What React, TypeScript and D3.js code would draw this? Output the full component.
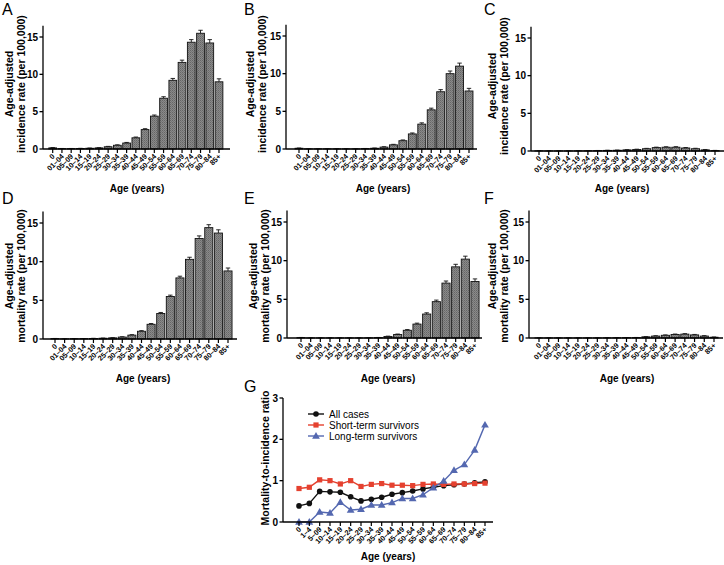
import React from "react";
import * as d3 from "d3";

// Age groups used on the bar panels and on the ratio panel
const AGE_GROUPS = ["0", "01–04", "05–09", "10–14", "15–19", "20–24", "25–29", "30–34", "35–39", "40–44", "45–49", "50–54", "55–59", "60–64", "65–69", "70–74", "75–79", "80–84", "85+"];
const AGE_GROUPS_RATIO = ["0", "1–4", "5–09", "10–14", "15–19", "20–24", "25–29", "30–34", "35–39", "40–44", "45–49", "50–54", "55–59", "60–64", "65–69", "70–74", "75–79", "80–84", "85+"];

// Age-adjusted incidence rate (per 100,000)
const incidenceAll = [0.15, 0.05, 0.05, 0.07, 0.1, 0.15, 0.3, 0.5, 0.8, 1.5, 2.6, 4.4, 6.8, 9.2, 11.6, 14.3, 15.5, 14.2, 9.0];
const incidenceAllErr = [0.05, 0.02, 0.02, 0.02, 0.03, 0.03, 0.05, 0.06, 0.08, 0.1, 0.12, 0.15, 0.2, 0.25, 0.3, 0.35, 0.4, 0.45, 0.4];
const incidenceShort = [0.1, 0.02, 0.02, 0.02, 0.02, 0.02, 0.02, 0.05, 0.1, 0.25, 0.55, 1.1, 2.0, 3.3, 5.2, 7.6, 10.0, 11.0, 7.7];
const incidenceShortErr = [0.03, 0.01, 0.01, 0.01, 0.01, 0.01, 0.01, 0.02, 0.03, 0.05, 0.07, 0.1, 0.13, 0.17, 0.22, 0.28, 0.35, 0.4, 0.35];
const incidenceLong = [0.02, 0.01, 0.01, 0.01, 0.02, 0.03, 0.05, 0.08, 0.1, 0.15, 0.2, 0.3, 0.45, 0.5, 0.5, 0.4, 0.3, 0.15, 0.05];
const incidenceLongErr = [0.01, 0.01, 0.01, 0.01, 0.01, 0.01, 0.02, 0.02, 0.02, 0.03, 0.04, 0.05, 0.06, 0.06, 0.07, 0.06, 0.06, 0.05, 0.03];

// Age-adjusted mortality rate (per 100,000)
const mortalityAll = [0.05, 0.02, 0.04, 0.05, 0.07, 0.1, 0.15, 0.25, 0.5, 1.0, 1.9, 3.3, 5.5, 7.9, 10.3, 13.0, 14.4, 13.7, 8.8];
const mortalityAllErr = [0.02, 0.01, 0.01, 0.01, 0.02, 0.02, 0.03, 0.04, 0.06, 0.08, 0.1, 0.13, 0.17, 0.22, 0.27, 0.33, 0.38, 0.42, 0.38];
const mortalityShort = [0.05, 0.01, 0.01, 0.01, 0.01, 0.01, 0.01, 0.02, 0.05, 0.2, 0.45, 1.0, 1.8, 3.1, 4.7, 7.1, 9.2, 10.2, 7.3];
const mortalityShortErr = [0.02, 0.01, 0.01, 0.01, 0.01, 0.01, 0.01, 0.01, 0.02, 0.04, 0.06, 0.09, 0.12, 0.16, 0.2, 0.27, 0.33, 0.38, 0.34];
const mortalityLong = [0.01, 0.01, 0.01, 0.01, 0.01, 0.01, 0.01, 0.02, 0.03, 0.04, 0.05, 0.15, 0.25, 0.35, 0.45, 0.5, 0.4, 0.25, 0.1];
const mortalityLongErr = [0.01, 0.01, 0.01, 0.01, 0.01, 0.01, 0.01, 0.01, 0.01, 0.02, 0.02, 0.03, 0.04, 0.05, 0.06, 0.06, 0.06, 0.05, 0.03];

// Mortality-to-incidence ratio
const ratioAll = [0.39, 0.45, 0.74, 0.73, 0.72, 0.61, 0.51, 0.55, 0.6, 0.67, 0.71, 0.75, 0.8, 0.84, 0.88, 0.9, 0.92, 0.95, 0.97];
const ratioShort = [0.81, 0.84, 1.02, 1.0, 0.92, 1.0, 0.86, 0.91, 0.93, 0.89, 0.89, 0.88, 0.91, 0.92, 0.91, 0.92, 0.92, 0.93, 0.94];
const ratioLong = [0, 0, 0.24, 0.22, 0.48, 0.29, 0.31, 0.41, 0.41, 0.47, 0.57, 0.57, 0.66, 0.83, 0.99, 1.25, 1.39, 1.74, 2.35];

const Y_TICKS = [0, 5, 10, 15];
const RATIO_TICKS = [0, 1, 2, 3];
const SERIES_NAMES = ["All cases", "Short-term survivors", "Long-term survivors"];
const SERIES_COLORS = ["#111111", "#e5412f", "#5468b0"];

const FONT = "'Liberation Sans', Arial, Helvetica, sans-serif";

type PanelProps = {
  letter: string;
  letterX: number;
  letterY: number;
  axisX: number;
  firstX: number;
  lastX: number;
  axisEnd: number;
  y0: number;
  y15: number;
  values: number[];
  errors: number[];
  label1: string;
  label2: string;
  labelX: number;
  labelY: number;
  titleX: number;
  titleY: number;
};

function BarPanel(p: PanelProps) {
  const x = d3.scalePoint<string>().domain(AGE_GROUPS).range([p.firstX, p.lastX]);
  const y = d3.scaleLinear().domain([0, 15]).range([p.y0, p.y15]);
  const bw = x.step() * 0.84;
  return (
    <g>
      <text x={p.letterX} y={p.letterY} fontSize={16} fontFamily={FONT}>{p.letter}</text>
      {AGE_GROUPS.map((g, i) => {
        const cx = x(g) as number;
        const v = p.values[i];
        const e = p.errors[i];
        return (
          <g key={g}>
            <line x1={cx} x2={cx} y1={y(v)} y2={y(v + e)} stroke="#111" strokeWidth={0.9} />
            <line x1={cx - 2.2} x2={cx + 2.2} y1={y(v + e)} y2={y(v + e)} stroke="#111" strokeWidth={0.9} />
            <rect x={cx - bw / 2} y={y(v)} width={bw} height={p.y0 - y(v)} fill="url(#hatch)" stroke="#111" strokeWidth={0.9} />
          </g>
        );
      })}
      {/* y axis */}
      <line x1={p.axisX} x2={p.axisX} y1={y(16.5)} y2={p.y0} stroke="#000" strokeWidth={1.3} />
      {Y_TICKS.map((t) => (
        <g key={t}>
          <line x1={p.axisX - 3.5} x2={p.axisX} y1={y(t)} y2={y(t)} stroke="#000" strokeWidth={1.3} />
          <text x={p.axisX - 5} y={y(t) + 3.5} textAnchor="end" fontSize={10} fontWeight="bold" fontFamily={FONT}>{t}</text>
        </g>
      ))}
      {/* x axis */}
      <line x1={p.axisX} x2={p.axisEnd} y1={p.y0} y2={p.y0} stroke="#000" strokeWidth={1.3} />
      {AGE_GROUPS.map((g) => {
        const cx = x(g) as number;
        return (
          <g key={"t" + g}>
            <line x1={cx} x2={cx} y1={p.y0} y2={p.y0 + 4} stroke="#000" strokeWidth={1.2} />
            <text transform={`translate(${cx + 2.5},${p.y0 + 8}) rotate(-45)`} textAnchor="end" fontSize={7.3} fontWeight="bold" fontFamily={FONT}>{g}</text>
          </g>
        );
      })}
      <text transform={`translate(${p.labelX},${p.labelY}) rotate(-90)`} textAnchor="middle" fontSize={10.5} fontWeight="bold" fontFamily={FONT}>
        <tspan x={0} dy={0}>{p.label1}</tspan>
        <tspan x={0} dy={11.5}>{p.label2}</tspan>
      </text>
      <text x={p.titleX} y={p.titleY} textAnchor="middle" fontSize={10} fontWeight="bold" fontFamily={FONT}>Age (years)</text>
    </g>
  );
}

function RatioPanel() {
  const axisX = 283;
  const y0 = 522;
  const x = d3.scalePoint<string>().domain(AGE_GROUPS_RATIO).range([299, 485]);
  const y = d3.scaleLinear().domain([0, 3]).range([y0, 398]);
  const series = [ratioAll, ratioShort, ratioLong];
  const line = d3.line<number>().x((_, i) => x(AGE_GROUPS_RATIO[i]) as number).y((v) => y(v));
  const marker = (k: number, cx: number, cy: number, key: string) => {
    if (k === 0) return <circle key={key} cx={cx} cy={cy} r={2.8} fill={SERIES_COLORS[0]} />;
    if (k === 1) return <rect key={key} x={cx - 2.6} y={cy - 2.6} width={5.2} height={5.2} fill={SERIES_COLORS[1]} />;
    const tri = d3.symbol(d3.symbolTriangle, 26)();
    return <path key={key} d={tri as string} transform={`translate(${cx},${cy + 0.5})`} fill={SERIES_COLORS[2]} />;
  };
  return (
    <g>
      <text x={244} y={392} fontSize={16} fontFamily={FONT}>G</text>
      {series.map((s, k) => (
        <g key={k}>
          <path d={line(s) as string} fill="none" stroke={SERIES_COLORS[k]} strokeWidth={1.4} />
          {s.map((v, i) => marker(k, x(AGE_GROUPS_RATIO[i]) as number, y(v), `${k}-${i}`))}
        </g>
      ))}
      <line x1={axisX} x2={axisX} y1={y(3)} y2={y0} stroke="#000" strokeWidth={1.3} />
      {RATIO_TICKS.map((t) => (
        <g key={t}>
          <line x1={axisX - 3.5} x2={axisX} y1={y(t)} y2={y(t)} stroke="#000" strokeWidth={1.3} />
          <text x={axisX - 5} y={y(t) + 3.5} textAnchor="end" fontSize={10} fontWeight="bold" fontFamily={FONT}>{t}</text>
        </g>
      ))}
      <line x1={axisX} x2={493} y1={y0} y2={y0} stroke="#000" strokeWidth={1.3} />
      {AGE_GROUPS_RATIO.map((g) => {
        const cx = x(g) as number;
        return (
          <g key={"t" + g}>
            <line x1={cx} x2={cx} y1={y0} y2={y0 + 4} stroke="#000" strokeWidth={1.2} />
            <text transform={`translate(${cx + 2.5},${y0 + 8}) rotate(-45)`} textAnchor="end" fontSize={7.3} fontWeight="bold" fontFamily={FONT}>{g}</text>
          </g>
        );
      })}
      <text transform={`translate(268.5,458) rotate(-90)`} textAnchor="middle" fontSize={10.5} fontWeight="bold" fontFamily={FONT}>Mortality-to-incidence ratio</text>
      <text x={388} y={560} textAnchor="middle" fontSize={10} fontWeight="bold" fontFamily={FONT}>Age (years)</text>
      {SERIES_NAMES.map((n, k) => {
        const ly = 414 + k * 11;
        return (
          <g key={n}>
            <line x1={308} x2={324} y1={ly} y2={ly} stroke={SERIES_COLORS[k]} strokeWidth={1.4} />
            {marker(k, 316, ly, "lg" + k)}
            <text x={329} y={ly + 3.5} fontSize={10} fontFamily={FONT}>{n}</text>
          </g>
        );
      })}
    </g>
  );
}

const panels: PanelProps[] = [
  { letter: "A", letterX: 2, letterY: 15, axisX: 43, firstX: 52.7, lastX: 219, axisEnd: 230, y0: 149, y15: 37, values: incidenceAll, errors: incidenceAllErr, label1: "Age-adjusted", label2: "incidence rate (per 100,000)", labelX: 13, labelY: 84, titleX: 137, titleY: 192 },
  { letter: "B", letterX: 244, letterY: 15, axisX: 286, firstX: 299, lastX: 469, axisEnd: 477, y0: 149, y15: 36, values: incidenceShort, errors: incidenceShortErr, label1: "Age-adjusted", label2: "incidence rate (per 100,000)", labelX: 254, labelY: 84, titleX: 383, titleY: 192 },
  { letter: "C", letterX: 484, letterY: 15, axisX: 531, firstX: 539, lastX: 715, axisEnd: 724, y0: 151, y15: 38, values: incidenceLong, errors: incidenceLongErr, label1: "Age-adjusted", label2: "incidence rate (per 100,000)", labelX: 496, labelY: 86, titleX: 622, titleY: 192 },
  { letter: "D", letterX: 2, letterY: 204, axisX: 43, firstX: 55, lastX: 228, axisEnd: 237, y0: 339, y15: 223, values: mortalityAll, errors: mortalityAllErr, label1: "Age-adjusted", label2: "mortality rate (per 100,000)", labelX: 13, labelY: 276, titleX: 143, titleY: 382 },
  { letter: "E", letterX: 244, letterY: 204, axisX: 287, firstX: 301, lastX: 475, axisEnd: 482, y0: 338, y15: 222, values: mortalityShort, errors: mortalityShortErr, label1: "Age-adjusted", label2: "mortality rate (per 100,000)", labelX: 257, labelY: 276, titleX: 388, titleY: 382 },
  { letter: "F", letterX: 484, letterY: 204, axisX: 529, firstX: 539, lastX: 714, axisEnd: 723, y0: 338, y15: 222, values: mortalityLong, errors: mortalityLongErr, label1: "Age-adjusted", label2: "mortality rate (per 100,000)", labelX: 496, labelY: 276, titleX: 627, titleY: 382 },
];

export default function App() {
  return (
    <svg width={724} height={565} style={{ position: "absolute", left: 0, top: 0, background: "#fff" }}>
      <defs>
        <pattern id="hatch" width={2} height={2} patternUnits="userSpaceOnUse">
          <rect width={2} height={2} fill="#8a8a8a" />
          <rect width={1} height={1} fill="#666666" />
          <rect x={1} y={1} width={1} height={1} fill="#757575" />
        </pattern>
      </defs>
      <rect width={724} height={565} fill="#fff" />
      {panels.map((p) => <BarPanel key={p.letter} {...p} />)}
      <RatioPanel />
    </svg>
  );
}
